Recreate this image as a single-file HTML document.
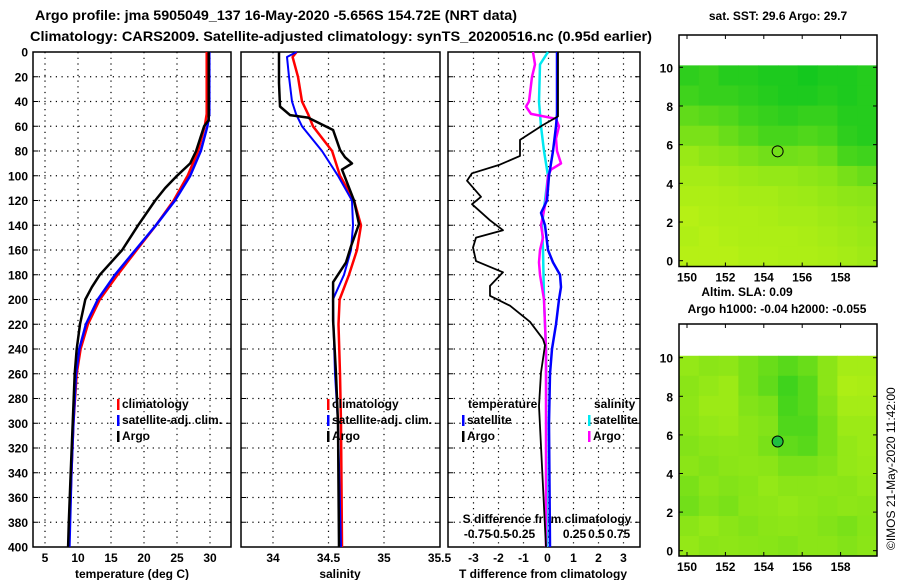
<!DOCTYPE html>
<html><head><meta charset="utf-8"><style>
body{margin:0;background:#fff;}
svg{display:block;font-family:"Liberation Sans",Arial,sans-serif;font-weight:bold;}
</style></head><body>
<svg id="chart" width="900" height="580" viewBox="0 0 900 580">
<text x="35" y="20" font-size="13.5" textLength="482" lengthAdjust="spacingAndGlyphs">Argo profile: jma 5905049_137 16-May-2020 -5.656S 154.72E (NRT data)</text>
<text x="30" y="41" font-size="13.5" textLength="622" lengthAdjust="spacingAndGlyphs">Climatology: CARS2009. Satellite-adjusted climatology: synTS_20200516.nc (0.95d earlier)</text>
<g id="g"></g>
</svg>
<script>
// ---- data ----
const depthT = [0,50,60,80,100,120,140,160,180,200,220,240,260,300,340,400];
const tempClim = [29.5,29.5,29.2,28.2,26.6,24.5,21.8,18.9,16.0,13.3,11.5,10.4,9.8,9.3,9.0,8.6];
const tempSat = [29.9,29.9,29.6,28.6,27.0,24.7,21.8,18.7,15.6,13.0,11.2,10.2,9.7,9.3,9.0,8.7];
const depthArgoT = [0,55,60,70,80,90,100,110,120,140,160,180,190,200,220,240,260,300,340,380,400];
const tempArgo = [29.8,29.8,29.1,28.5,27.9,27.0,25.0,23.2,21.7,19.1,16.7,13.3,12.1,11.1,10.3,9.8,9.5,9.2,8.9,8.6,8.5];

const depthS = [0,4,20,40,50,60,80,100,120,140,160,180,200,220,260,300,400];
const salClim = [34.213,34.177,34.225,34.261,34.315,34.360,34.532,34.604,34.730,34.793,34.757,34.685,34.600,34.590,34.604,34.613,34.622];
const salSat = [34.213,34.126,34.144,34.171,34.207,34.261,34.441,34.586,34.712,34.721,34.703,34.640,34.540,34.545,34.559,34.586,34.613];
const depthArgoS = [0,25,44,51,53,63,79,85,90,95,120,139,157,170,186,197,217,260,300,400];
const salArgo = [34.054,34.054,34.063,34.153,34.315,34.541,34.604,34.649,34.712,34.622,34.730,34.775,34.703,34.658,34.541,34.541,34.541,34.568,34.586,34.595];

const depthDT = [0,52,59,71,84,91,98,104,117,123,136,144,150,158,169,178,189,197,205,218,232,237,259,286,400];
const tDiffArgo = [0.38,0.38,-0.22,-1.14,-1.14,-1.94,-3.06,-3.26,-2.7,-3.06,-2.34,-1.82,-2.9,-3.02,-2.9,-1.82,-2.34,-2.34,-1.54,-0.74,-0.22,-0.14,-0.3,-0.38,-0.1];
const depthDTs = [0,50,60,80,100,120,130,140,160,170,180,190,200,220,240,260,300,400];
const tDiffSat = [0.34,0.34,0.3,0.18,0.02,-0.06,-0.3,-0.14,-0.02,0.18,0.46,0.5,0.42,0.3,0.14,0.06,0.02,0.06];
const depthDS = [0,10,20,40,44,50,54,60,70,80,90,95,100,120,140,150,160,170,180,190,200,240,400];
const sDiffArgo = [-0.176,-0.153,-0.188,-0.222,-0.256,-0.199,0.085,0.119,0.085,0.097,0.142,0.028,-0.006,-0.028,-0.085,-0.063,-0.097,-0.108,-0.097,-0.074,-0.051,-0.028,-0.028];
const depthDSs = [0,10,40,60,80,100,120,140,160,200,240,400];
const sDiffSat = [-0.006,-0.097,-0.108,-0.085,-0.051,-0.006,-0.040,-0.074,-0.063,-0.051,-0.028,-0.017];

const depthTicks = [0,20,40,60,80,100,120,140,160,180,200,220,240,260,280,300,320,340,360,380,400];
const tempTicks = [5,10,15,20,25,30];
const salTicks = [34,34.5,35];
const salTickValues = [34,34.5,35,35.5];
const salTickLabels = ["34","34.5","35","35.5"];
const diffTicks = [-3,-2,-1,0,1,2,3];
const sDiffValues = [-0.75,-0.5,-0.25,0,0.25,0.5,0.75];
const sDiffLabels = ["-0.75","-0.5","-0.25","0","0.25","0.5","0.75"];
const lonTicks = [150,152,154,156,158];
const latTicks = [0,2,4,6,8,10];

// map heatmaps (value 0 = green, 1 = yellow-green), rows from lat 10 downward
const sstGrid = [
 [0.15,0.2,0.1,0.1,0.05,0.05,0.0,0.05,0.05,0.1],
 [0.25,0.2,0.2,0.15,0.1,0.05,0.05,0.1,0.05,0.1],
 [0.45,0.4,0.35,0.25,0.2,0.15,0.2,0.2,0.1,0.1],
 [0.6,0.6,0.5,0.4,0.3,0.3,0.35,0.3,0.15,0.1],
 [0.78,0.72,0.68,0.62,0.55,0.55,0.58,0.5,0.3,0.25],
 [0.85,0.85,0.82,0.78,0.75,0.75,0.72,0.68,0.58,0.5],
 [0.9,0.9,0.88,0.85,0.85,0.82,0.8,0.76,0.72,0.7],
 [0.95,0.92,0.9,0.9,0.88,0.85,0.85,0.82,0.78,0.75],
 [0.92,0.95,0.92,0.9,0.9,0.9,0.88,0.85,0.82,0.78],
 [0.95,0.95,0.95,0.92,0.92,0.9,0.9,0.88,0.85,0.82]];
const slaGrid = [
 [0.75,0.7,0.72,0.6,0.5,0.4,0.5,0.7,0.85,0.85],
 [0.7,0.75,0.8,0.6,0.45,0.25,0.4,0.7,0.9,0.88],
 [0.72,0.8,0.8,0.65,0.6,0.3,0.4,0.65,0.85,0.85],
 [0.7,0.75,0.78,0.7,0.65,0.35,0.35,0.6,0.8,0.8],
 [0.65,0.7,0.72,0.7,0.6,0.45,0.4,0.6,0.75,0.8],
 [0.7,0.65,0.7,0.72,0.7,0.6,0.6,0.65,0.75,0.78],
 [0.6,0.7,0.65,0.68,0.75,0.7,0.7,0.72,0.7,0.75],
 [0.55,0.65,0.6,0.7,0.72,0.75,0.72,0.68,0.72,0.7],
 [0.7,0.75,0.7,0.65,0.7,0.72,0.7,0.65,0.6,0.68],
 [0.75,0.7,0.72,0.7,0.68,0.65,0.7,0.7,0.65,0.7]];

// ---- layout ----
const NS="http://www.w3.org/2000/svg";
const G=document.getElementById('g');
function mk(tag,attrs,parent){const e=document.createElementNS(NS,tag);for(const k in attrs)e.setAttribute(k,attrs[k]);(parent||G).appendChild(e);return e;}
const yTop=52, yBot=547;
const yD=d=>yTop+(d/400)*(yBot-yTop);
const xT=t=>45+(t-5)*6.6;
const xS=s=>273+(s-34)*111;
const xDT=v=>548.5+v*25;
const xDS=v=>548.5+v*88;
const panels=[[33,231],[241,440],[448,640]];

function path(ds,vs,fx,color,w,name){
  let d='';ds.forEach((dd,i)=>{d+=(i?'L':'M')+fx(vs[i]).toFixed(1)+','+yD(dd).toFixed(1);});
  const p=mk('path',{d:d,fill:'none',stroke:color,'stroke-width':w,'stroke-linejoin':'round'});
  
  
}
function txt(x,y,s,opt){const t=mk('text',Object.assign({x:x,y:y,'font-size':12},opt||{}));t.textContent=s;return t;}

panels.forEach((p,pi)=>{
  depthTicks.forEach(d=>{
    if(d>0&&d<400){const l=mk('line',{x1:p[0],x2:p[1],y1:yD(d),y2:yD(d),stroke:'#000','stroke-width':1.2,'stroke-dasharray':'1.2,4.5'});
    
    }
    mk('line',{x1:p[0],x2:p[0]+5,y1:yD(d),y2:yD(d),stroke:'#000'});
    mk('line',{x1:p[1]-5,x2:p[1],y1:yD(d),y2:yD(d),stroke:'#000'});
  });
  let xt = pi==0?tempTicks.map(xT):pi==1?salTicks.map(xS):diffTicks.map(xDT);
  xt.forEach(x=>{const l=mk('line',{x1:x,x2:x,y1:yTop,y2:yBot,stroke:'#000','stroke-width':1.2,'stroke-dasharray':'1.2,4.5'});
    
    });
  const r=mk('rect',{x:p[0],y:yTop,width:p[1]-p[0],height:yBot-yTop,fill:'none',stroke:'#000','stroke-width':1.5});
  
  
});
depthTicks.forEach(d=>{const t=txt(28,yD(d)+4.5,String(d),{'text-anchor':'end'});
  
  });
tempTicks.forEach(v=>{const t=txt(xT(v),562,String(v),{'text-anchor':'middle'});
  
  });
salTickValues.forEach((v,i)=>{const t=txt(Math.min(xS(v),440),562,salTickLabels[i],{'text-anchor':'middle'});
  
  });
diffTicks.forEach(v=>{const t=txt(xDT(v)-(v==0?1:0),562,String(v),{'text-anchor':'middle'});
  
  });
sDiffValues.forEach((v,i)=>{const t=txt(xDS(v)+(v<0?-5:(v==0?-1:4)),538,sDiffLabels[i],{'text-anchor':'middle'});
  
  });
let t;
t=txt(132,578,'temperature (deg C)',{'text-anchor':'middle'});
t=txt(340,578,'salinity',{'text-anchor':'middle'});
t=txt(543,578,'T difference from climatology',{'text-anchor':'middle'});
t=txt(547,523,'S difference from climatology',{'text-anchor':'middle'});

path(depthT,tempClim,xT,'#ff0000',2.5,'temperature-climatology-line');
path(depthT,tempSat,xT,'#0000ff',2.5,'temperature-satellite-line');
path(depthArgoT,tempArgo,xT,'#000',2.5,'temperature-argo-line');
path(depthS,salClim,xS,'#ff0000',2.5,'salinity-climatology-line');
path(depthS,salSat,xS,'#0000ff',2,'salinity-satellite-line');
path(depthArgoS,salArgo,xS,'#000',2.5,'salinity-argo-line');
path(depthDSs,sDiffSat,xDS,'#00e8f0',2.5,'s-diff-satellite-line');
path(depthDS,sDiffArgo,xDS,'#ff00ff',2.5,'s-diff-argo-line');
path(depthDTs,tDiffSat,xDT,'#0000ff',2.5,'t-diff-satellite-line');
path(depthDT,tDiffArgo,xDT,'#000',1.8,'t-diff-argo-line');

function leg(x,y,c,s,name){const r=mk('rect',{x:x,y:y-9,width:2.5,height:11,fill:c});
  
  
  const tt=txt(x+5,y,s);}
leg(117,408,'#ff0000','climatology','legend-climatology');
leg(117,424,'#0000ff','satellite-adj. clim.','legend-satellite');
leg(117,440,'#000','Argo','legend-argo');
leg(327,408,'#ff0000','climatology','legend-s-climatology');
leg(327,424,'#0000ff','satellite-adj. clim.','legend-s-satellite');
leg(327,440,'#000','Argo','legend-s-argo');
t=txt(468,408,'temperature');
leg(462,424,'#0000ff','satellite','legend-t-satellite');
leg(462,440,'#000','Argo','legend-t-argo');
t=txt(594,408,'salinity');
leg(588,424,'#00e8f0','satellite','legend-s-diff-satellite');
leg(588,440,'#ff00ff','Argo','legend-s-diff-argo');

function col(v){const a=[20,200,30],b=[190,242,20];return 'rgb('+a.map((c,i)=>Math.round(c+(b[i]-c)*v)).join(',')+')';}
function map(top,bot,lat10,lat0,grid,name,dotColor){
  const xL=679,xR=877;
  const xLon=l=>687+(l-150)*19.2;
  const yLat=l=>lat0+(l-0)*(lat10-lat0)/10;
  const dataTop=yLat(10.1);
  const rows=grid.length,cols=grid[0].length;
  const cw=(xR-xL)/cols,ch=(bot-dataTop)/rows;
  grid.forEach((row,ri)=>row.forEach((v,ci)=>{
    const r=mk('rect',{x:xL+ci*cw,y:dataTop+ri*ch,width:cw+0.5,height:ch+0.5,fill:col(v)});
    
    
  }));
  const b=mk('rect',{x:xL,y:top,width:xR-xL,height:bot-top,fill:'none',stroke:'#000','stroke-width':1.5});
  
  
  lonTicks.forEach(l=>{mk('line',{x1:xLon(l),x2:xLon(l),y1:top,y2:top+4,stroke:'#000'});mk('line',{x1:xLon(l),x2:xLon(l),y1:bot-4,y2:bot,stroke:'#000'});
    const tt=txt(xLon(l),bot+15,String(l),{'text-anchor':'middle'});});
  latTicks.forEach(l=>{mk('line',{x1:xL,x2:xL+4,y1:yLat(l),y2:yLat(l),stroke:'#000'});mk('line',{x1:xR-4,x2:xR,y1:yLat(l),y2:yLat(l),stroke:'#000'});
    const tt=txt(673,yLat(l)+5,String(l),{'text-anchor':'end'});});
  const c=mk('circle',{cx:xLon(154.72),cy:yLat(5.656),r:5.5,fill:dotColor,stroke:'#000','stroke-width':1});
  
  
}
map(35,266.5,67.3,260.7,sstGrid,'sst-map','none');
map(324,556,357.7,550.7,slaGrid,'sla-map','#20c040');
t=txt(778,20,'sat. SST: 29.6 Argo: 29.7',{'text-anchor':'middle'});
t=txt(747,296,'Altim. SLA: 0.09',{'text-anchor':'middle'});
t=txt(777,313,'Argo h1000: -0.04 h2000: -0.055',{'text-anchor':'middle'});
t=txt(0,0,'©IMOS 21-May-2020 11:42:00',{'font-weight':'normal','transform':'translate(895,550) rotate(-90)'});
</script>
</body></html>
